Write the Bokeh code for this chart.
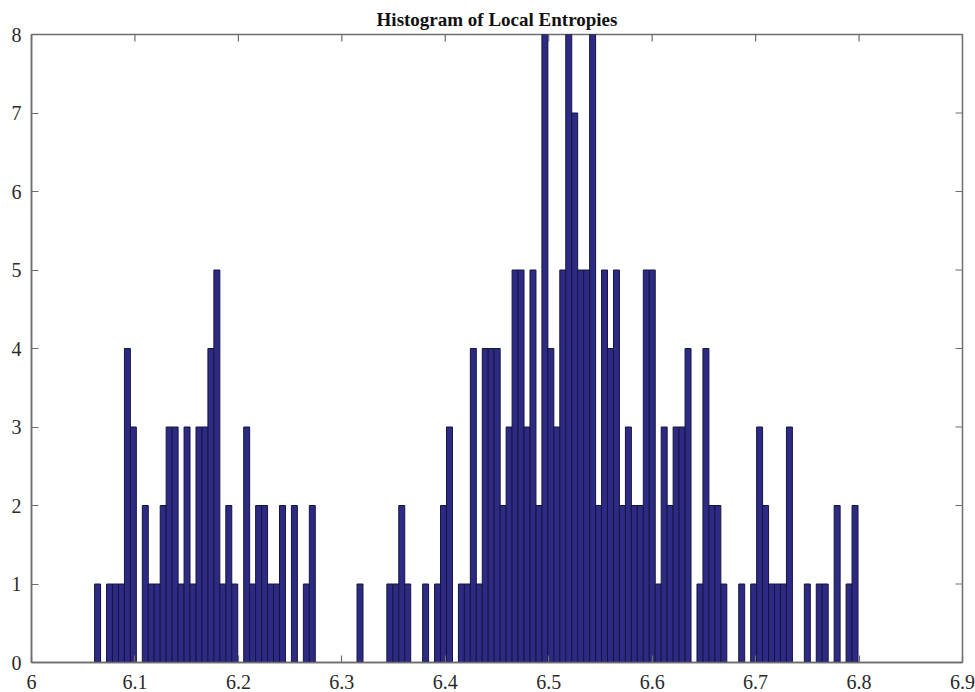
from bokeh.plotting import figure
from bokeh.models import FixedTicker, Range1d
from bokeh.embed import file_html
from bokeh.resources import INLINE

# Histogram counts, 128 equal-width bins spanning the observed entropy range
bin_lo = 6.061
bin_hi = 6.799
counts = [
    1, 0, 1, 1, 1, 4, 3, 0, 2, 1, 1, 2, 3, 3, 1, 3,
    1, 3, 3, 4, 5, 1, 2, 1, 0, 3, 1, 2, 2, 1, 1, 2,
    0, 2, 0, 1, 2, 0, 0, 0, 0, 0, 0, 0, 1, 0, 0, 0,
    0, 1, 1, 2, 1, 0, 0, 1, 0, 1, 2, 3, 0, 1, 1, 4,
    1, 4, 4, 4, 2, 3, 5, 5, 3, 5, 2, 8, 4, 3, 5, 8,
    7, 5, 5, 8, 2, 5, 4, 5, 2, 3, 2, 2, 5, 5, 1, 3,
    2, 3, 3, 4, 0, 1, 4, 2, 2, 1, 0, 0, 1, 0, 1, 3,
    2, 1, 1, 1, 3, 0, 0, 1, 0, 1, 1, 0, 2, 0, 1, 2,
]

x_ticks = [6.0, 6.1, 6.2, 6.3, 6.4, 6.5, 6.6, 6.7, 6.8, 6.9]
x_tick_labels = ["6", "6.1", "6.2", "6.3", "6.4", "6.5", "6.6", "6.7", "6.8", "6.9"]
y_ticks = [0, 1, 2, 3, 4, 5, 6, 7, 8]

x_min, x_max = 6.0, 6.9
y_min, y_max = 0, 8

n_bins = len(counts)
width = (bin_hi - bin_lo) / n_bins
lefts = [bin_lo + i * width for i in range(n_bins)]
rights = [l + width for l in lefts]
bottoms = [0] * n_bins

FONT = "Liberation Serif"
AXIS_COLOR = "#6e6e6e"
LABEL_COLOR = "#2a2a2a"
TICK_PX = 7

W, H = 975, 692
BORDER_L, BORDER_R, BORDER_T, BORDER_B = 31, 13, 34, 30

p = figure(
    width=W, height=H,
    x_range=Range1d(x_min, x_max), y_range=Range1d(y_min, y_max),
    output_backend="svg", toolbar_location=None,
    min_border_left=BORDER_L, min_border_right=BORDER_R,
    min_border_top=BORDER_T, min_border_bottom=BORDER_B,
    title="Histogram of Local Entropies",
)
p.title.text_font = FONT
p.title.text_font_style = "bold"
p.title.text_font_size = "19px"
p.title.text_color = "#111111"
p.title.align = "center"
p.title.standoff = 10
p.title.offset = 0

p.xgrid.visible = False
p.ygrid.visible = False
p.outline_line_color = AXIS_COLOR
p.outline_line_width = 1.5
p.background_fill_color = "white"
p.border_fill_color = "white"

p.quad(left=lefts, right=rights, bottom=bottoms, top=counts,
       fill_color="#2d2a86", line_color="#16163a", line_width=1)


def style_axis(ax):
    ax.axis_line_color = AXIS_COLOR
    ax.axis_line_width = 1.5
    ax.major_tick_line_color = AXIS_COLOR
    ax.major_tick_line_width = 1.2
    ax.major_tick_in = TICK_PX
    ax.major_tick_out = 0
    ax.minor_tick_line_color = None
    ax.major_label_text_font = FONT
    ax.major_label_text_font_size = "20px"
    ax.major_label_text_color = LABEL_COLOR


xa = p.xaxis[0]
xa.ticker = FixedTicker(ticks=x_ticks)
xa.major_label_overrides = {t: s for t, s in zip(x_ticks, x_tick_labels)}
style_axis(xa)
xa.major_label_standoff = 12
xa.major_label_text_line_height = 0.7

ya = p.yaxis[0]
ya.ticker = FixedTicker(ticks=y_ticks)
style_axis(ya)
ya.major_label_standoff = 10

# Inward ticks mirrored on the top and right edges of the box
frame_w = W - BORDER_L - BORDER_R
frame_h = H - BORDER_T - BORDER_B
tick_dy = TICK_PX * (y_max - y_min) / frame_h
tick_dx = TICK_PX * (x_max - x_min) / frame_w
p.segment(x0=x_ticks, x1=x_ticks,
          y0=[y_max] * len(x_ticks), y1=[y_max - tick_dy] * len(x_ticks),
          line_color=AXIS_COLOR, line_width=1.2)
p.segment(x0=[x_max] * len(y_ticks), x1=[x_max - tick_dx] * len(y_ticks),
          y0=y_ticks, y1=y_ticks,
          line_color=AXIS_COLOR, line_width=1.2)

open("out.html", "w").write(file_html(p, INLINE))
